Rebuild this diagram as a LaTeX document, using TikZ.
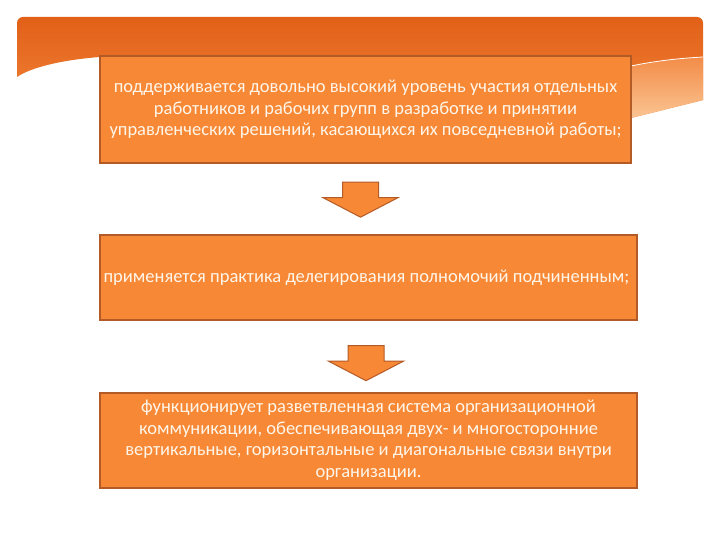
\documentclass[tikz,border=0pt]{standalone}
\usepackage{fontspec}
\setmainfont{Carlito}
\usetikzlibrary{shapes.arrows}
\definecolor{boxorange}{RGB}{247,136,54}
\definecolor{boxedge}{RGB}{180,90,38}
\definecolor{boxtext}{RGB}{255,246,234}
\definecolor{bandtop}{RGB}{226,96,24}
\definecolor{bandbot}{RGB}{242,132,58}
\definecolor{flaptop}{RGB}{243,140,72}
\definecolor{flapbot}{RGB}{250,196,146}
\def\boxwid{537bp}
\def\arrowlen{35bp}
\def\halfshaft{17.5bp}

\begin{document}
\begin{tikzpicture}[x=1bp,y=-1bp,
            infobox/.style={%
                rectangle, draw=boxedge, line width=1.3bp, fill=boxorange,%
                minimum width=\boxwid, text=boxtext, align=center,%
                font=\fontsize{18.5bp}{21.5bp}\selectfont, inner sep=0pt%
            },
            downarrow/.style={%
                single arrow, shape border rotate=270, draw=boxedge,%
                line width=1bp, fill=boxorange,%
                inner xsep=\halfshaft, inner ysep=0pt,%
                minimum height=\arrowlen,%
                single arrow head extend=19.5bp, single arrow tip angle=125%
            }
        ]
        \useasboundingbox (0,0) rectangle (720,540);
        \fill[white] (0,0) rectangle (720,540);

        % header band
        \shade[top color=bandtop, bottom color=bandbot]
            (17,77) [rounded corners=6bp] -- (17,17) -- (703,17)
            [sharp corners] -- (703,100) -- (631,118)
            .. controls (450,90) and (220,52) .. (100,57)
            .. controls (60,60) and (30,68) .. (17,77) -- cycle;
        \shade[top color=flaptop, bottom color=flapbot]
            (631,66) .. controls (660,60) and (685,58) .. (703,57)
            -- (703,100) -- (631,118) -- cycle;
        \draw[white, line width=0.8bp]
            (631,66) .. controls (660,60) and (685,58) .. (703,57);

        % Define nodes
        \node (box1) [infobox, minimum width=531bp, minimum height=107bp]
            at (365.5,109.5) {%
                поддерживается довольно высокий уровень участия отдельных\\
                работников и рабочих групп в разработке и принятии\\
                управленческих решений, касающихся их повседневной работы;
            };

        \node (box2) [infobox, minimum height=85bp] at (368.5,277.5) {%
            применяется практика делегирования полномочий подчиненным;
        };

        \node (box3) [infobox, minimum height=95bp] at (368.5,440.5) {%
            функционирует разветвленная система организационной\\
            коммуникации, обеспечивающая двух- и многосторонние\\
            вертикальные, горизонтальные и диагональные связи внутри\\
            организации.
        };

        \node (arrow1) [downarrow] at (360.5,195) {};
        \node (arrow2) [downarrow] at (366,358.5) {};

\end{tikzpicture}
\end{document}
